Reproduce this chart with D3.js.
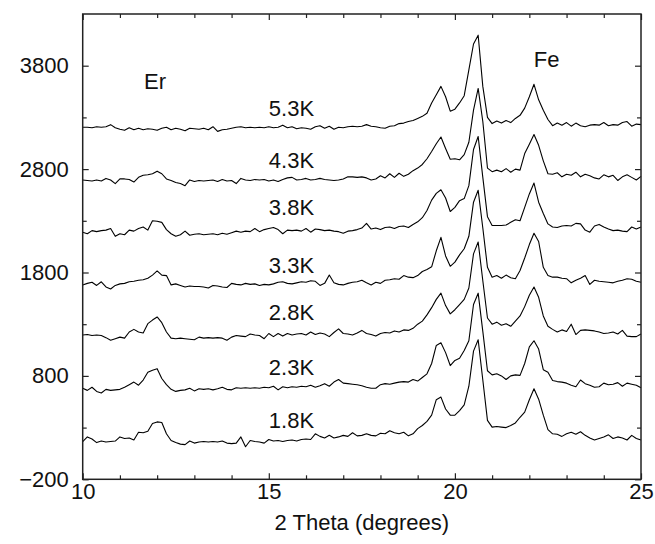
<!DOCTYPE html>
<html>
<head>
<meta charset="utf-8">
<script src="https://cdn.jsdelivr.net/npm/d3@7"></script>
<style>
body { margin: 0; background: #fff; }
svg text { font-family: "Liberation Sans", Arial, Helvetica, sans-serif; fill: #111; }
</style>
</head>
<body>
<svg id="chart" width="655" height="544"></svg>
<script>
// scan grid (2 theta, degrees)
var SCAN_START = 10
var SCAN_STEP = 0.125

var temps = ["1.8K", "2.3K", "2.8K", "3.3K", "3.8K", "4.3K", "5.3K"]
var offsets = [0, 500, 1000, 1500, 2000, 2500, 3000]

// counts, one per scan step (121 each)
var counts18 = [
  165,210,190,155,170,160,165,170,210,195,
  200,180,255,250,265,340,355,350,240,175,
  155,140,135,170,150,160,165,160,165,160,
  170,150,145,150,210,115,175,165,160,150,
  185,170,175,165,175,180,170,185,190,185,
  240,215,200,225,200,210,225,215,250,220,
  225,240,225,220,245,240,270,250,240,255,
  220,240,290,320,360,420,570,595,480,420,
  420,465,520,700,1040,1150,760,370,305,310,
  305,300,320,345,400,450,570,675,575,420,
  280,240,235,215,240,255,235,260,225,200,
  180,195,210,230,195,210,200,180,225,195,
  180]
var counts23 = [
  180,160,190,150,135,170,160,165,170,190,
  215,240,210,260,335,355,370,275,215,170,
  150,160,165,180,155,175,170,175,165,175,
  190,170,165,185,180,185,180,185,180,190,
  185,200,165,195,185,195,190,200,195,210,
  190,205,225,200,240,265,230,225,220,215,
  205,190,180,180,215,225,220,230,240,245,
  240,265,250,285,320,420,595,620,525,400,
  450,470,545,640,990,1100,730,350,310,320,
  300,265,300,310,305,420,580,640,560,360,
  335,255,245,240,230,210,195,260,225,210,
  190,195,230,215,220,235,200,230,220,210,
  185]
var counts28 = [
  195,200,190,195,190,170,145,160,175,165,
  225,250,225,215,305,340,370,315,225,165,
  160,165,160,155,150,175,165,170,165,170,
  165,145,175,190,185,180,205,195,190,160,
  210,180,210,185,210,195,205,210,195,225,
  200,215,205,180,220,255,210,205,195,215,
  240,210,200,185,210,220,215,235,225,245,
  240,260,300,330,390,460,540,600,480,400,
  440,490,540,650,980,1095,720,360,300,320,
  290,305,280,330,380,470,580,660,560,380,
  280,250,225,245,230,300,200,240,245,240,
  235,225,210,215,225,205,240,185,180,180,
  205]
var counts33 = [
  180,195,205,175,210,160,140,175,190,195,
  210,215,225,230,245,275,315,275,270,180,
  190,175,160,170,165,165,160,150,175,170,
  160,155,195,185,180,195,185,190,175,185,
  180,190,205,210,195,190,200,210,205,220,
  215,175,195,275,200,185,180,195,205,210,
  225,200,180,205,195,225,230,240,235,270,
  255,250,270,310,330,355,510,640,460,360,
  400,470,530,650,980,1095,730,350,255,270,
  245,275,250,240,320,440,570,680,600,350,
  270,255,255,245,240,200,225,245,270,185,
  225,215,210,205,200,215,225,240,235,215,
  205]
var counts38 = [
  190,175,205,195,205,210,225,150,175,165,
  210,200,225,240,210,300,295,285,215,175,
  150,165,200,160,170,175,165,170,175,165,
  180,170,185,200,190,200,195,225,195,215,
  225,235,215,175,210,205,210,200,225,190,
  220,215,205,210,200,195,180,200,205,215,
  230,275,220,230,215,235,240,225,245,250,
  235,265,290,330,400,500,565,600,520,390,
  430,495,515,640,990,1115,720,340,255,255,
  255,260,285,310,300,430,560,665,480,370,
  270,240,235,250,255,250,275,270,210,190,
  250,265,240,220,205,210,200,195,240,220,
  240]
var counts43 = [
  195,190,185,195,185,210,195,160,205,205,
  200,175,220,240,245,255,280,255,205,190,
  170,160,140,195,180,190,185,190,195,180,
  200,185,190,160,210,195,190,200,195,200,
  185,195,180,200,215,220,195,200,210,195,
  200,210,200,195,190,195,205,225,225,220,
  225,215,195,205,235,215,255,220,260,230,
  250,285,310,345,400,470,545,610,500,395,
  400,390,440,560,870,1080,760,310,275,290,
  275,305,270,300,290,450,540,635,530,380,
  255,250,265,225,250,240,270,225,250,235,
  215,205,245,225,240,190,225,245,220,195,
  230]
var counts53 = [
  205,205,200,210,205,210,230,200,185,175,
  200,180,195,180,190,185,175,195,205,180,
  195,185,170,195,190,185,195,180,210,165,
  180,185,195,205,210,200,205,200,205,200,
  210,200,205,225,200,210,190,200,195,185,
  210,220,195,215,185,205,200,210,215,210,
  215,230,215,210,200,195,215,220,240,245,
  260,270,290,310,340,440,520,600,500,360,
  380,440,510,760,1010,1095,600,300,240,265,
  245,270,250,290,320,390,500,620,470,370,
  280,220,245,225,250,215,245,220,210,225,
  230,225,250,220,230,225,250,260,215,235,
  230]

var allCounts = [counts18, counts23, counts28, counts33, counts38, counts43, counts53]

// where the temperature labels sit (data units)
var labelX = [15.0, 15.0, 15.0, 15.0, 15.0, 15.0, 15.0]
var labelY = [296, 808, 1339, 1793, 2354, 2808, 3310]

var peakNames = ["Er", "Fe"]
var peakX = [11.65, 22.12]
var peakY = [3578, 3787]

var xTicks = [10, 15, 20, 25]
var xMinor = [11, 12, 13, 14, 16, 17, 18, 19, 21, 22, 23, 24]
var yTicks = [-200, 800, 1800, 2800, 3800]
var yMinor = [300, 1300, 2300, 3300]

var plotL = 82.7, plotR = 641, plotT = 14, plotB = 479.3
var FONT = "22px"

var svg = d3.select("#chart")

var x = d3.scaleLinear().domain([10, 25]).range([plotL, plotR])
var y = d3.scaleLinear().domain([-200, 4300]).range([plotB, plotT])

var scans = allCounts.map(function(c, k) {
  return c.map(function(v, i) {
    return {t: SCAN_START + i * SCAN_STEP, v: v + offsets[k]}
  })
})

var line = d3.line()
  .x(function(d) { return x(d.t) })
  .y(function(d) { return y(d.v) })

svg.append("g").selectAll("path")
  .data(scans)
  .enter().append("path")
  .attr("d", line)
  .attr("fill", "none")
  .attr("stroke", "#000")
  .attr("stroke-width", 1.1)
  .attr("stroke-linejoin", "round")

// axes, ticks pointing inward
var addAxis = function(axis, tr) {
  var g = svg.append("g").attr("transform", tr).call(axis)
  g.select(".domain").remove()
  g.selectAll("line").attr("stroke", "#222").attr("stroke-width", 1.2)
  g.selectAll("text").attr("font-size", FONT).attr("font-family", null).attr("fill", "#111")
  return g
}

addAxis(d3.axisBottom(x).tickValues(xTicks).tickSize(-6).tickPadding(4).tickFormat(d3.format("d")),
  "translate(0," + plotB + ")")
addAxis(d3.axisBottom(x).tickValues(xMinor).tickSize(-4).tickFormat(""),
  "translate(0," + plotB + ")")
addAxis(d3.axisTop(x).tickValues(xTicks).tickSize(-6).tickFormat(""),
  "translate(0," + plotT + ")")
addAxis(d3.axisTop(x).tickValues(xMinor).tickSize(-4).tickFormat(""),
  "translate(0," + plotT + ")")

addAxis(d3.axisLeft(y).tickValues(yTicks).tickSize(-6).tickPadding(14).tickFormat(d3.format("d")),
  "translate(" + plotL + ",0)")
addAxis(d3.axisLeft(y).tickValues(yMinor).tickSize(-4).tickFormat(""),
  "translate(" + plotL + ",0)")
addAxis(d3.axisRight(y).tickValues(yTicks).tickSize(-6).tickFormat(""),
  "translate(" + plotR + ",0)")
addAxis(d3.axisRight(y).tickValues(yMinor).tickSize(-4).tickFormat(""),
  "translate(" + plotR + ",0)")

// frame
svg.append("rect")
  .attr("x", plotL).attr("y", plotT)
  .attr("width", plotR - plotL).attr("height", plotB - plotT)
  .attr("fill", "none")
  .attr("stroke", "#222")
  .attr("stroke-width", 1.5)

// temperature labels
svg.append("g").selectAll("text")
  .data(temps)
  .enter().append("text")
  .attr("x", function(d, i) { return x(labelX[i]) })
  .attr("y", function(d, i) { return y(labelY[i]) })
  .attr("font-size", FONT)
  .text(function(d) { return d })

svg.append("g").selectAll("text")
  .data(peakNames)
  .enter().append("text")
  .attr("x", function(d, i) { return x(peakX[i]) })
  .attr("y", function(d, i) { return y(peakY[i]) })
  .attr("font-size", FONT)
  .text(function(d) { return d })

svg.append("text")
  .attr("x", (plotL + plotR) / 2)
  .attr("y", 530)
  .attr("text-anchor", "middle")
  .attr("font-size", FONT)
  .text("2 Theta (degrees)")
</script>
</body>
</html>
